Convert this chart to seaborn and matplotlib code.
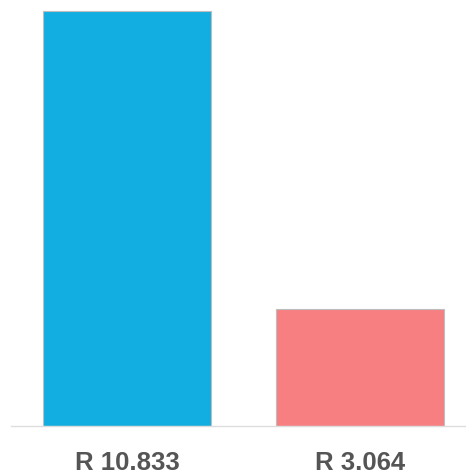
import pandas as pd
import numpy as np
import matplotlib
matplotlib.use('Agg')
import matplotlib.pyplot as plt
import seaborn as sns

# values
labels = ['R 10.833', 'R 3.064']
values = [10.833, 3.064]
colors = ['#12aee2', '#f77f82']

df = pd.DataFrame({'label': labels, 'value': values})

sns.set_style('white')
plt.rcParams['font.family'] = ['Liberation Sans', 'DejaVu Sans']

fig = plt.figure(figsize=(4.66, 4.77), dpi=100)
ax = fig.add_axes([11 / 466, 50 / 477, 455 / 466, 427 / 477])

sns.barplot(data=df, x='label', y='value', hue='label', palette=colors,
            width=0.7226, edgecolor='#bdbdbd', linewidth=0.8,
            legend=False, ax=ax, saturation=1)

ax.set_xlim(-0.5, 1.458)
ax.set_ylim(0, 10.833 * 427 / 415)
ax.set_xlabel('')
ax.set_ylabel('')
ax.set_yticks([])
for s in ['top', 'right', 'left']:
    ax.spines[s].set_visible(False)
ax.spines['bottom'].set_color('#dddddd')
ax.spines['bottom'].set_linewidth(1)
ax.tick_params(axis='x', length=0, pad=17)
for t in ax.get_xticklabels():
    t.set_fontsize(18.5)
    t.set_fontweight('bold')
    t.set_color('#555555')

fig.savefig('out.png', dpi=100)
